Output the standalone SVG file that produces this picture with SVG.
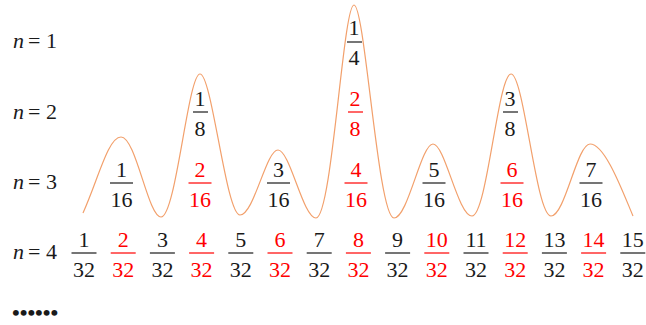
<svg xmlns="http://www.w3.org/2000/svg" width="646" height="325" viewBox="0 0 646 325">
<style>
text{font-family:"Liberation Serif","Times New Roman",serif;font-size:22px;fill:#1a1a1a}
.c{text-anchor:middle}
.r text{fill:#ff0000}
.r line{stroke:#ff0000}
line{stroke:#1a1a1a;stroke-width:1.2}
.i{font-style:italic}
.wave{fill:none;stroke:#f2a06c;stroke-width:1.2}
</style>
<g id="connectors">
<path class="wave" d="M 83 213 C 98 180, 108 137, 121 137 C 136 137, 148 217, 161 217 C 176 217, 188 74, 200 74 C 212 74, 226 215, 240 215 C 254 215, 266 150, 278 150 C 290 150, 303 218, 316 218 C 332 218, 343 5, 354 5 C 365 5, 378 218, 394 218 C 408 218, 421 144, 433 144 C 445 144, 458 216, 472 216 C 487 216, 498 74, 511 74 C 524 74, 536 216, 551 216 C 565 216, 577 144, 590 144 C 605 144, 622 190, 633 216"/>
</g>
<g id="labels">
<text x="13" y="48"><tspan class="i">n</tspan><tspan x="28">=</tspan><tspan x="46">1</tspan></text>
<text x="13" y="119"><tspan class="i">n</tspan><tspan x="28">=</tspan><tspan x="46">2</tspan></text>
<text x="13" y="189"><tspan class="i">n</tspan><tspan x="28">=</tspan><tspan x="46">3</tspan></text>
<text x="13" y="259"><tspan class="i">n</tspan><tspan x="28">=</tspan><tspan x="46">4</tspan></text>
<text x="12" y="320" style="font-size:22px;font-weight:bold">••••••</text>
</g>
<g id="n1">
<g id="f1_4"><text class="c" x="354" y="35">1</text><line x1="347" y1="42" x2="362" y2="42"/><text class="c" x="354" y="65">4</text></g>
</g>
<g id="n2">
<g id="f1_8"><text class="c" x="200" y="106">1</text><line x1="193" y1="112" x2="208" y2="112"/><text class="c" x="200" y="136">8</text></g>
<g id="f2_8" class="r"><text class="c" x="355" y="106">2</text><line x1="348" y1="112" x2="363" y2="112"/><text class="c" x="355" y="136">8</text></g>
<g id="f3_8"><text class="c" x="510" y="106">3</text><line x1="503" y1="112" x2="518" y2="112"/><text class="c" x="510" y="136">8</text></g>
</g>
<g id="n3">
<g id="f1_16"><text class="c" x="121.5" y="177">1</text><line x1="110" y1="183" x2="133" y2="183"/><text class="c" x="121.5" y="207">16</text></g>
<g id="f2_16" class="r"><text class="c" x="200" y="177">2</text><line x1="188.5" y1="183" x2="211.5" y2="183"/><text class="c" x="200" y="207">16</text></g>
<g id="f3_16"><text class="c" x="278.5" y="177">3</text><line x1="267" y1="183" x2="290" y2="183"/><text class="c" x="278.5" y="207">16</text></g>
<g id="f4_16" class="r"><text class="c" x="356" y="177">4</text><line x1="344.5" y1="183" x2="367.5" y2="183"/><text class="c" x="356" y="207">16</text></g>
<g id="f5_16"><text class="c" x="434" y="177">5</text><line x1="422.5" y1="183" x2="445.5" y2="183"/><text class="c" x="434" y="207">16</text></g>
<g id="f6_16" class="r"><text class="c" x="512" y="177">6</text><line x1="500.5" y1="183" x2="523.5" y2="183"/><text class="c" x="512" y="207">16</text></g>
<g id="f7_16"><text class="c" x="591" y="177">7</text><line x1="579.5" y1="183" x2="602.5" y2="183"/><text class="c" x="591" y="207">16</text></g>
</g>
<g id="n4">
<g id="f1_32"><text class="c" x="84" y="247">1</text><line x1="71.5" y1="253" x2="96.5" y2="253"/><text class="c" x="84" y="277">32</text></g>
<g id="f2_32" class="r"><text class="c" x="123.2" y="247">2</text><line x1="110.7" y1="253" x2="135.7" y2="253"/><text class="c" x="123.2" y="277">32</text></g>
<g id="f3_32"><text class="c" x="162.4" y="247">3</text><line x1="149.9" y1="253" x2="174.9" y2="253"/><text class="c" x="162.4" y="277">32</text></g>
<g id="f4_32" class="r"><text class="c" x="201.6" y="247">4</text><line x1="189.1" y1="253" x2="214.1" y2="253"/><text class="c" x="201.6" y="277">32</text></g>
<g id="f5_32"><text class="c" x="240.8" y="247">5</text><line x1="228.3" y1="253" x2="253.3" y2="253"/><text class="c" x="240.8" y="277">32</text></g>
<g id="f6_32" class="r"><text class="c" x="280" y="247">6</text><line x1="267.5" y1="253" x2="292.5" y2="253"/><text class="c" x="280" y="277">32</text></g>
<g id="f7_32"><text class="c" x="319.2" y="247">7</text><line x1="306.7" y1="253" x2="331.7" y2="253"/><text class="c" x="319.2" y="277">32</text></g>
<g id="f8_32" class="r"><text class="c" x="358.4" y="247">8</text><line x1="345.9" y1="253" x2="370.9" y2="253"/><text class="c" x="358.4" y="277">32</text></g>
<g id="f9_32"><text class="c" x="397.6" y="247">9</text><line x1="385.1" y1="253" x2="410.1" y2="253"/><text class="c" x="397.6" y="277">32</text></g>
<g id="f10_32" class="r"><text class="c" x="436.8" y="247">10</text><line x1="424.3" y1="253" x2="449.3" y2="253"/><text class="c" x="436.8" y="277">32</text></g>
<g id="f11_32"><text class="c" x="476" y="247">11</text><line x1="463.5" y1="253" x2="488.5" y2="253"/><text class="c" x="476" y="277">32</text></g>
<g id="f12_32" class="r"><text class="c" x="515.2" y="247">12</text><line x1="502.7" y1="253" x2="527.7" y2="253"/><text class="c" x="515.2" y="277">32</text></g>
<g id="f13_32"><text class="c" x="554.4" y="247">13</text><line x1="541.9" y1="253" x2="566.9" y2="253"/><text class="c" x="554.4" y="277">32</text></g>
<g id="f14_32" class="r"><text class="c" x="593.6" y="247">14</text><line x1="581.1" y1="253" x2="606.1" y2="253"/><text class="c" x="593.6" y="277">32</text></g>
<g id="f15_32"><text class="c" x="632.8" y="247">15</text><line x1="620.3" y1="253" x2="645.3" y2="253"/><text class="c" x="632.8" y="277">32</text></g>
</g>
</svg>
